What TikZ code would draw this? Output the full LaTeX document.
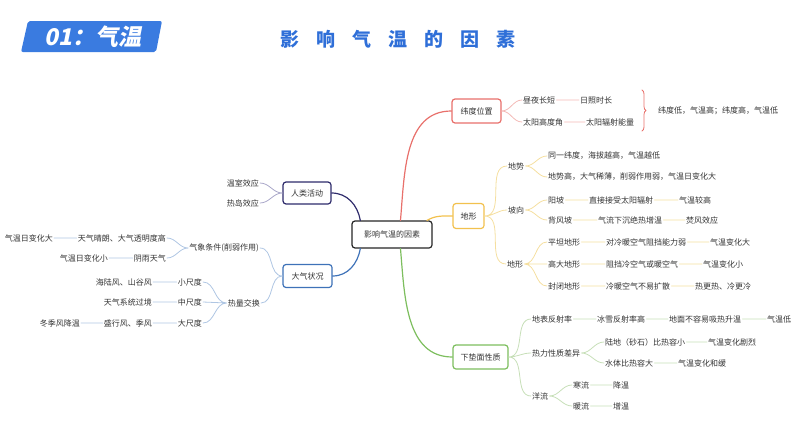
\documentclass[tikz,border=0pt]{standalone}
\usepackage{fontspec}
\setmainfont{Noto Sans CJK SC}
\newfontfamily\bnrfont[FakeSlant=0.2]{Noto Sans CJK SC}
\usetikzlibrary{decorations.pathreplacing}
\definecolor{ttlblue}{HTML}{2F6FD8}
\definecolor{bnrblue}{HTML}{3A7BE0}
\definecolor{txtgray}{HTML}{333333}
\definecolor{redA}{HTML}{E8706B}
\definecolor{redB}{HTML}{F3B9B6}
\definecolor{yelA}{HTML}{F2C14E}
\definecolor{yelB}{HTML}{F5DFA0}
\definecolor{grnA}{HTML}{7DBE5E}
\definecolor{grnB}{HTML}{C7DFB8}
\definecolor{navA}{HTML}{2E2B6B}
\definecolor{navB}{HTML}{A9A7C9}
\definecolor{bluA}{HTML}{3E72B8}
\definecolor{bluB}{HTML}{AFC6E3}
\begin{document}
\begin{tikzpicture}[x=1pt,y=-1pt,line join=round,line cap=round,
    txt/.style={inner sep=1pt,font=\fontsize{8}{9}\selectfont,text=txtgray},
    topic/.style={draw,rounded corners=3pt,line width=1.2pt,fill=white,inner sep=0pt,font=\fontsize{8}{9}\selectfont,text=txtgray},
    fork/.style={out=0,in=180},
    forkl/.style={out=180,in=0},
    trunk/.style={line width=1.2pt},
    twig/.style={line width=0.8pt}]
    \useasboundingbox (0,0) rectangle (794,447);
    % title
    \fill[bnrblue,rounded corners=2pt] (28,21) -- (162,21) -- (156,52) -- (21,52) -- cycle;
    \node[text=white,font=\bnrfont\bfseries\fontsize{23}{24}\selectfont] (bnr) at (93,37) {01：气温};
    \node[text=ttlblue,font=\bfseries\fontsize{19}{20}\selectfont] (ttl) at (398,39)
        {影\hspace{17pt}响\hspace{17pt}气\hspace{17pt}温\hspace{17pt}的\hspace{17pt}因\hspace{17pt}素};
    % centre
    \node[topic,draw=black!85,minimum width=80,minimum height=27] (ctr) at (392,234.5) {影响气温的因素};
    % 纬度位置
    \node[topic,draw=redA,minimum width=49,minimum height=24] (wd) at (476.5,111) {纬度位置};
    \node[txt,anchor=west] (zy) at (522,100) {昼夜长短};
    \node[txt,anchor=west] (rz) at (579,100) {日照时长};
    \node[txt,anchor=west] (ty) at (522,122) {太阳高度角};
    \node[txt,anchor=west] (fs) at (585,122) {太阳辐射能量};
    \node[txt,anchor=west] (wdjl) at (657,111) {纬度低，气温高；纬度高，气温低};
    \draw[trunk,redA] (ctr.59) to[out=85,in=180] (wd.west);
    \draw[twig,redB] (wd.east) to[fork] (zy.west) (wd.east) to[fork] (ty.west)
        (zy.east) -- (rz.west) (ty.east) -- (fs.west);
    \draw[twig,redA,decorate,decoration={brace,amplitude=4pt}] (642,90) -- (642,131);
    % 地形
    \node[topic,draw=yelA,minimum width=31,minimum height=25] (dx) at (468.5,216) {地形};
    \node[txt,anchor=west] (ds) at (507,166) {地势};
    \node[txt,anchor=west] (ds1) at (547,156) {同一纬度，海拔越高，气温越低};
    \node[txt,anchor=west] (ds2) at (547,177) {地势高，大气稀薄，削弱作用弱，气温日变化大};
    \node[txt,anchor=west] (px) at (507,210) {坡向};
    \node[txt,anchor=west] (yp) at (547,200) {阳坡};
    \node[txt,anchor=west] (yp1) at (588,200) {直接接受太阳辐射};
    \node[txt,anchor=west] (yp2) at (678,200) {气温较高};
    \node[txt,anchor=west] (bf) at (547,220) {背风坡};
    \node[txt,anchor=west] (bf1) at (597,220) {气流下沉绝热增温};
    \node[txt,anchor=west] (bf2) at (685,220) {焚风效应};
    \node[txt,anchor=west] (dxb) at (506,264) {地形};
    \node[txt,anchor=west] (pt) at (547,242) {平坦地形};
    \node[txt,anchor=west] (pt1) at (605,242) {对冷暖空气阻挡能力弱};
    \node[txt,anchor=west] (pt2) at (709,242) {气温变化大};
    \node[txt,anchor=west] (gd) at (547,264) {高大地形};
    \node[txt,anchor=west] (gd1) at (605,264) {阻挡冷空气或暖空气};
    \node[txt,anchor=west] (gd2) at (702,264) {气温变化小};
    \node[txt,anchor=west] (fb) at (547,286) {封闭地形};
    \node[txt,anchor=west] (fb1) at (605,286) {冷暖空气不易扩散};
    \node[txt,anchor=west] (fb2) at (694,286) {热更热、冷更冷};
    \draw[trunk,yelA] (ctr.22) to[out=30,in=180] (dx.west);
    \draw[twig,yelB] (dx.east) to[fork] (ds.west) (dx.east) to[fork] (px.west) (dx.east) to[fork] (dxb.west)
        (ds.east) to[fork] (ds1.west) (ds.east) to[fork] (ds2.west)
        (px.east) to[fork] (yp.west) (px.east) to[fork] (bf.west)
        (yp.east) -- (yp1.west) (yp1.east) -- (yp2.west)
        (bf.east) -- (bf1.west) (bf1.east) -- (bf2.west)
        (dxb.east) to[fork] (pt.west) (dxb.east) -- (gd.west) (dxb.east) to[fork] (fb.west)
        (pt.east) -- (pt1.west) (pt1.east) -- (pt2.west)
        (gd.east) -- (gd1.west) (gd1.east) -- (gd2.west)
        (fb.east) -- (fb1.west) (fb1.east) -- (fb2.west);
    % 下垫面性质
    \node[topic,draw=grnA,minimum width=55,minimum height=24] (xd) at (480.5,357) {下垫面性质};
    \node[txt,anchor=west] (fsl) at (531,319) {地表反射率};
    \node[txt,anchor=west] (fsl1) at (596,319) {冰雪反射率高};
    \node[txt,anchor=west] (fsl2) at (668,319) {地面不容易吸热升温};
    \node[txt,anchor=west] (fsl3) at (766,319) {气温低};
    \node[txt,anchor=west] (rlxz) at (531,353) {热力性质差异};
    \node[txt,anchor=west] (ld) at (604,342) {陆地（砂石）比热容小};
    \node[txt,anchor=west] (ld1) at (707,342) {气温变化剧烈};
    \node[txt,anchor=west] (st) at (604,363) {水体比热容大};
    \node[txt,anchor=west] (st1) at (677,363) {气温变化和缓};
    \node[txt,anchor=west] (yl) at (531,396) {洋流};
    \node[txt,anchor=west] (hl) at (572,385) {寒流};
    \node[txt,anchor=west] (hl1) at (612,385) {降温};
    \node[txt,anchor=west] (nl) at (572,406) {暖流};
    \node[txt,anchor=west] (nl1) at (612,406) {增温};
    \draw[trunk,grnA] (ctr.-59) to[out=-85,in=180] (xd.west);
    \draw[twig,grnB] (xd.east) to[fork] (fsl.west) (xd.east) to[fork] (rlxz.west) (xd.east) to[fork] (yl.west)
        (fsl.east) -- (fsl1.west) (fsl1.east) -- (fsl2.west) (fsl2.east) -- (fsl3.west)
        (rlxz.east) to[fork] (ld.west) (rlxz.east) to[fork] (st.west)
        (ld.east) -- (ld1.west) (st.east) -- (st1.west)
        (yl.east) to[fork] (hl.west) (yl.east) to[fork] (nl.west)
        (hl.east) -- (hl1.west) (nl.east) -- (nl1.west);
    % 人类活动
    \node[topic,draw=navA,minimum width=48,minimum height=22] (rh) at (307,193) {人类活动};
    \node[txt,anchor=east] (ws) at (260,183) {温室效应};
    \node[txt,anchor=east] (rd) at (260,203) {热岛效应};
    \draw[trunk,navA] (ctr.156) to[out=100,in=0] (rh.east);
    \draw[twig,navB] (rh.west) to[forkl] (ws.east) (rh.west) to[forkl] (rd.east);
    % 大气状况
    \node[topic,draw=bluA,minimum width=49,minimum height=23] (dq) at (307.5,276) {大气状况};
    \node[txt,anchor=east] (qx) at (260,248) {气象条件(削弱作用)};
    \node[txt,anchor=east] (tq) at (167,238) {天气晴朗、大气透明度高};
    \node[txt,anchor=east] (tq1) at (54,238) {气温日变化大};
    \node[txt,anchor=east] (yy) at (167,258) {阴雨天气};
    \node[txt,anchor=east] (yy1) at (109,258) {气温日变化小};
    \node[txt,anchor=east] (rljh) at (261,303) {热量交换};
    \node[txt,anchor=east] (xc) at (203,282) {小尺度};
    \node[txt,anchor=east] (xc1) at (153,282) {海陆风、山谷风};
    \node[txt,anchor=east] (zc) at (203,302) {中尺度};
    \node[txt,anchor=east] (zc1) at (153,302) {天气系统过境};
    \node[txt,anchor=east] (dc) at (203,323) {大尺度};
    \node[txt,anchor=east] (dc1) at (153,323) {盛行风、季风};
    \node[txt,anchor=east] (dc2) at (81,323) {冬季风降温};
    \draw[trunk,bluA] (ctr.204) to[out=-100,in=0] (dq.east);
    \draw[twig,bluB] (dq.west) to[forkl] (qx.east) (dq.west) to[forkl] (rljh.east)
        (qx.west) to[forkl] (tq.east) (qx.west) to[forkl] (yy.east)
        (tq.west) -- (tq1.east) (yy.west) -- (yy1.east)
        (rljh.west) to[forkl] (xc.east) (rljh.west) -- (zc.east) (rljh.west) to[forkl] (dc.east)
        (xc.west) -- (xc1.east) (zc.west) -- (zc1.east) (dc.west) -- (dc1.east) (dc1.west) -- (dc2.east);
\end{tikzpicture}
\end{document}
